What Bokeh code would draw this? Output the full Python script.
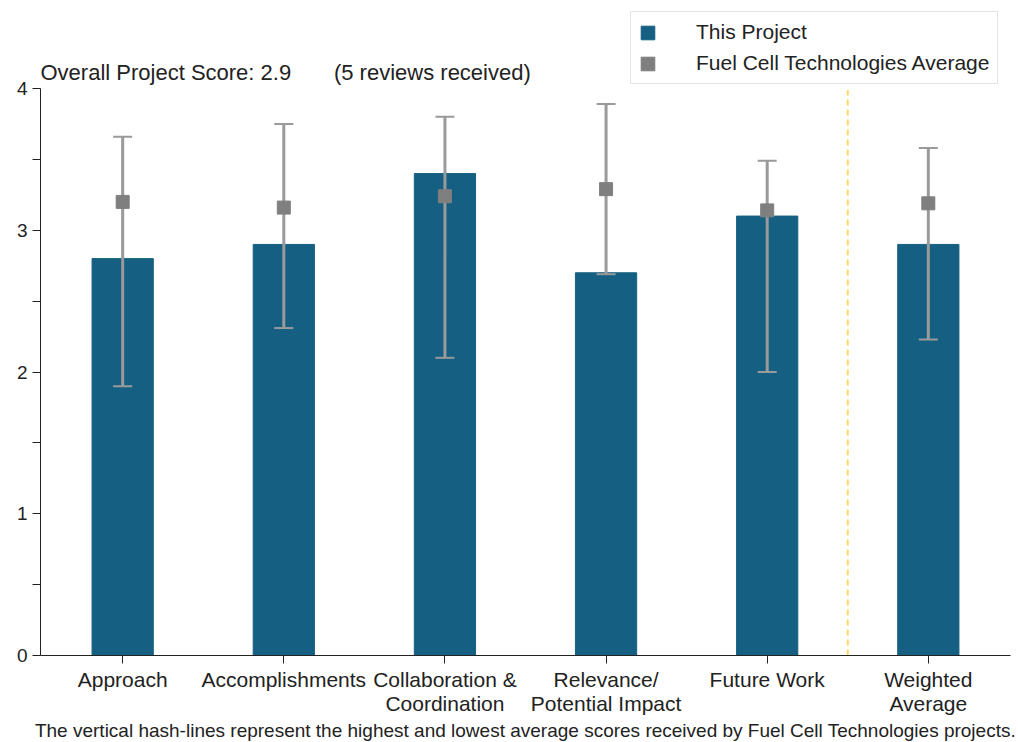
from bokeh.plotting import figure
from bokeh.models import (FixedTicker, Label, Legend, LegendItem, Whisker,
                          ColumnDataSource, Range1d, TeeHead, Title)
from bokeh.embed import file_html
from bokeh.resources import INLINE

categories = ["Approach", "Accomplishments", "Collaboration &\nCoordination",
              "Relevance/\nPotential Impact", "Future Work", "Weighted\nAverage"]
project_scores = [2.8, 2.9, 3.4, 2.7, 3.1, 2.9]
fct_average = [3.20, 3.16, 3.24, 3.29, 3.14, 3.19]
fct_high = [3.66, 3.75, 3.80, 3.89, 3.49, 3.58]
fct_low = [1.90, 2.31, 2.10, 2.69, 2.00, 2.23]
title_text = "Overall Project Score: 2.9" + "\u00a0" * 7 + "(5 reviews received)"
footnote = ("The vertical hash-lines represent the highest and lowest average scores "
            "received by Fuel Cell Technologies projects.")

FONT = "Liberation Sans"
BAR = "#156082"
GRAY = "#7f7f7f"
WHISK = "#9a9a9a"

xs = list(range(len(categories)))
src = ColumnDataSource(dict(x=xs, top=project_scores, avg=fct_average,
                            high=fct_high, low=fct_low))

# frame spans to the top of the canvas; the y axis line is bounded to 0..4
p = figure(width=1018, height=742, x_range=Range1d(-0.51, 5.51),
           y_range=Range1d(0, 4 + 88 / 141.75),
           output_backend="svg", toolbar_location=None,
           min_border_left=40, min_border_right=8, min_border_top=0, min_border_bottom=87)
p.outline_line_color = None
p.xgrid.visible = False
p.ygrid.visible = False

bars = p.vbar(x="x", top="top", width=0.38, source=src, fill_color=BAR, line_color=BAR)

wh = Whisker(base="x", upper="high", lower="low", source=src,
             line_color=WHISK, line_width=3, level="glyph",
             upper_head=TeeHead(size=19, line_color=WHISK, line_width=2),
             lower_head=TeeHead(size=19, line_color=WHISK, line_width=2))
p.add_layout(wh)

p.scatter(x="x", y="avg", source=src, marker="square", size=13,
          fill_color=GRAY, line_color=GRAY, level="overlay")

dummy = p.vbar(x=[-10], top=[1], width=0.38, fill_color=GRAY, line_color=GRAY)

# dashed separator before the weighted average, limited to the 0..4 band
p.segment(x0=[4.5], y0=[0], x1=[4.5], y1=[3.99], line_color="#ffd966",
          line_dash="6 4", line_width=2)

# axes
p.xaxis.ticker = FixedTicker(ticks=xs)
p.xaxis.major_label_overrides = {i: c for i, c in enumerate(categories)}
p.xaxis.minor_tick_line_color = None
p.xaxis.major_tick_in = 0
p.xaxis.major_tick_out = 8
p.xaxis.major_label_standoff = 4
p.xaxis.major_label_text_font = FONT
p.xaxis.major_label_text_font_size = "21px"
p.xaxis.major_label_text_line_height = 1.05
p.xaxis.major_label_text_color = "#222222"
p.xaxis.axis_line_color = "#222222"
p.xaxis.major_tick_line_color = "#222222"

p.yaxis.ticker = FixedTicker(ticks=[0, 1, 2, 3, 4], minor_ticks=[0.5, 1.5, 2.5, 3.5])
p.yaxis.bounds = (0, 4)
p.yaxis.major_tick_in = 0
p.yaxis.major_tick_out = 8
p.yaxis.minor_tick_in = 0
p.yaxis.minor_tick_out = 8
p.yaxis.major_label_text_font = FONT
p.yaxis.major_label_text_font_size = "19px"
p.yaxis.major_label_text_color = "#222222"
p.yaxis.axis_line_color = "#222222"
p.yaxis.major_tick_line_color = "#222222"
p.yaxis.minor_tick_line_color = "#222222"

p.add_layout(Label(x=-0.51, y=4.11, text=title_text, text_font=FONT,
                   text_font_size="22px", text_color="#222222",
                   text_baseline="alphabetic", text_align="left"))

p.add_layout(Title(text=footnote, align="center", text_font=FONT,
                   text_font_size="19px", text_font_style="normal",
                   text_color="#222222", standoff=0), "below")

legend = Legend(items=[LegendItem(label="This Project", renderers=[bars]),
                       LegendItem(label="Fuel Cell Technologies Average", renderers=[dummy])],
                location=(590, 571), glyph_width=17, glyph_height=17,
                label_standoff=40, padding=8, spacing=7, label_height=20,
                label_text_font=FONT, label_text_font_size="21px",
                label_text_color="#222222", border_line_color="#cccccc",
                background_fill_color="white", background_fill_alpha=1.0)
p.add_layout(legend, "center")

open("out.html", "w").write(file_html(p, INLINE))
